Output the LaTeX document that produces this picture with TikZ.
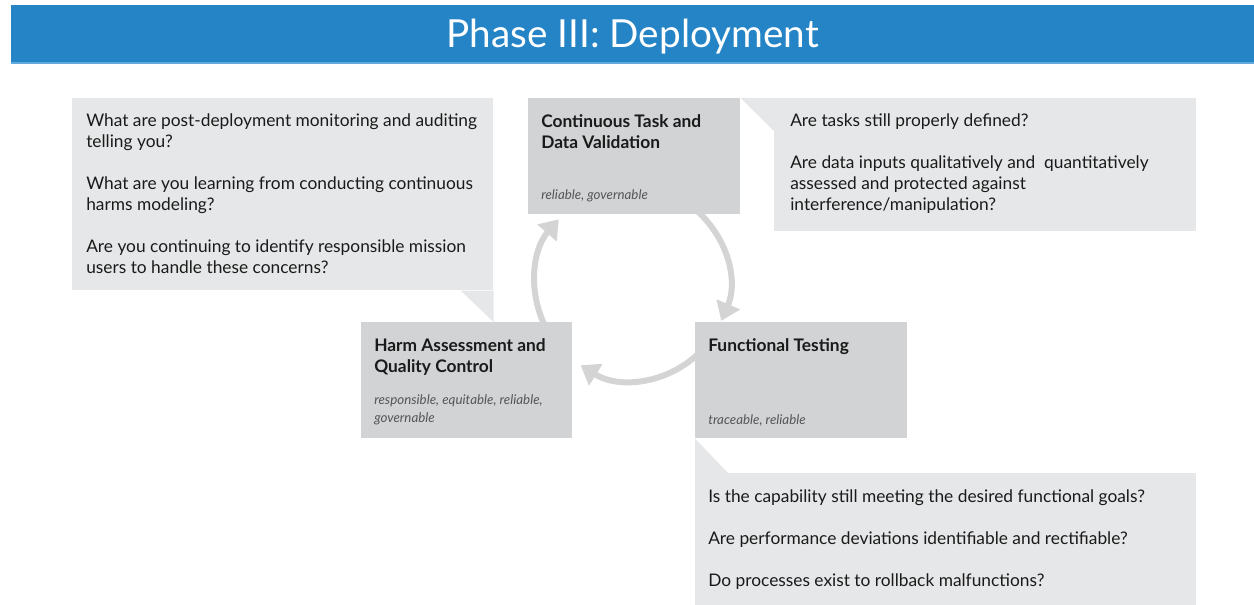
\documentclass[tikz,border=0pt]{standalone}
\usepackage{fontspec}
\setmainfont{Lato}
\usepackage{tikz}
\usetikzlibrary{
    arrows.meta,
    positioning,
    backgrounds
}

\begin{document}
\begin{tikzpicture}[x=0.75pt, y=0.75pt,
    stage/.style={fill=stageGrey, inner sep=0pt, anchor=north west,
        minimum width=159pt, minimum height=87pt},
    stagetitle/.style={anchor=north west, inner sep=0pt, align=left,
        text=inkColor, font=\fontsize{13}{15.75}\selectfont\bfseries},
    stagetag/.style={anchor=south west, inner sep=0pt, align=left,
        text=tagGrey, font=\fontsize{10}{13.5}\selectfont\itshape},
    note/.style={fill=noteGrey, inner sep=0pt, anchor=north west},
    notetext/.style={anchor=north west, inner sep=0pt, align=left,
        text=inkColor, font=\fontsize{13}{15.75}\selectfont},
    ringarrow/.style={ringGrey, line width=4.5pt,
        -{Triangle[length=13.5pt, width=18.5pt]}}
]

\definecolor{bannerBlue}{RGB}{36,132,198}
\definecolor{bannerEdge}{RGB}{98,170,220}
\definecolor{stageGrey}{RGB}{209,211,212}
\definecolor{noteGrey}{RGB}{230,231,232}
\definecolor{ringGrey}{RGB}{212,212,213}
\definecolor{tagGrey}{RGB}{85,85,85}
\definecolor{inkColor}{RGB}{26,26,26}

\useasboundingbox (0,0) rectangle (1254,-605);

% Banner
\node[fill=bannerBlue, text=white, inner sep=0pt, anchor=north west,
      minimum width=932.25pt, minimum height=42.75pt, text depth=0pt,
      font=\fontsize{29}{32}\selectfont] (banner) at (11,-5) {Phase III: Deployment};
\draw[bannerEdge, line width=1.5pt] (banner.south west) -- (banner.south east);

% Stage boxes
\node[stage] (cont) at (528,-98) {};
\node[stage] (func) at (695,-322) {};
\node[stage, minimum width=158.25pt] (harm) at (361,-322) {};

\node[stagetitle] (contTitle) at ([shift={(13,-16)}]cont.north west) {Continuous Task and\\Data Validation};
\node[stagetag] (contTag) at ([shift={(13,12)}]cont.south west) {reliable, governable};

\node[stagetitle] (funcTitle) at ([shift={(13,-16)}]func.north west) {Functional Testing};
\node[stagetag] (funcTag) at ([shift={(13,12)}]func.south west) {traceable, reliable};

\node[stagetitle] (harmTitle) at ([shift={(13,-16)}]harm.north west) {Harm Assessment and\\Quality Control};
\node[stagetag] (harmTag) at ([shift={(13,13)}]harm.south west) {responsible, equitable, reliable,\\governable};

% Question callouts
\node[note, minimum width=315.75pt, minimum height=144pt] (qHarm) at (72,-98) {};
\node[note, minimum width=316.5pt, minimum height=99.75pt] (qCont) at (774,-98) {};
\node[note, minimum width=375.75pt, minimum height=99pt] (qFunc) at (695,-473) {};

\fill[noteGrey] (qHarm.south east) -- ++(-33,0) -- (qHarm.south east |- harm.north) -- cycle;
\fill[noteGrey] (cont.north east) -- (qCont.north west) -- ++(0,-33) -- cycle;
\fill[noteGrey] (func.south west) -- (qFunc.north west) -- ++(33,0) -- cycle;

\node[notetext] (qHarmText) at ([shift={(14,-15)}]qHarm.north west)
    {What are post-deployment monitoring and auditing\\telling you?\\[15.75pt]
     What are you learning from conducting continuous\\harms modeling?\\[15.75pt]
     Are you continuing to identify responsible mission\\users to handle these concerns?};
\node[notetext] (qContText) at ([shift={(16,-15)}]qCont.north west)
    {Are tasks still properly defined?\\[15.75pt]
     Are data inputs qualitatively and\ \ quantitatively\\assessed and protected against\\interference/manipulation?};
\node[notetext] (qFuncText) at ([shift={(13,-16)}]qFunc.north west)
    {Is the capability still meeting the desired functional goals?\\[15.75pt]
     Are performance deviations identifiable and rectifiable?\\[15.75pt]
     Do processes exist to rollback malfunctions?};

% Cycle arrows behind the boxes
\coordinate (hub) at (632,-283);
\begin{scope}[on background layer]
\draw[ringarrow] ([shift={(60:72.75pt)}]hub) arc[start angle=60, end angle=-23, radius=72.75pt];
\draw[ringarrow] ([shift={(-40:72.75pt)}]hub) arc[start angle=-40, end angle=-122, radius=72.75pt];
\draw[ringarrow] ([shift={(210:72.75pt)}]hub) arc[start angle=210, end angle=139, radius=72.75pt];
\end{scope}

\end{tikzpicture}
\end{document}
